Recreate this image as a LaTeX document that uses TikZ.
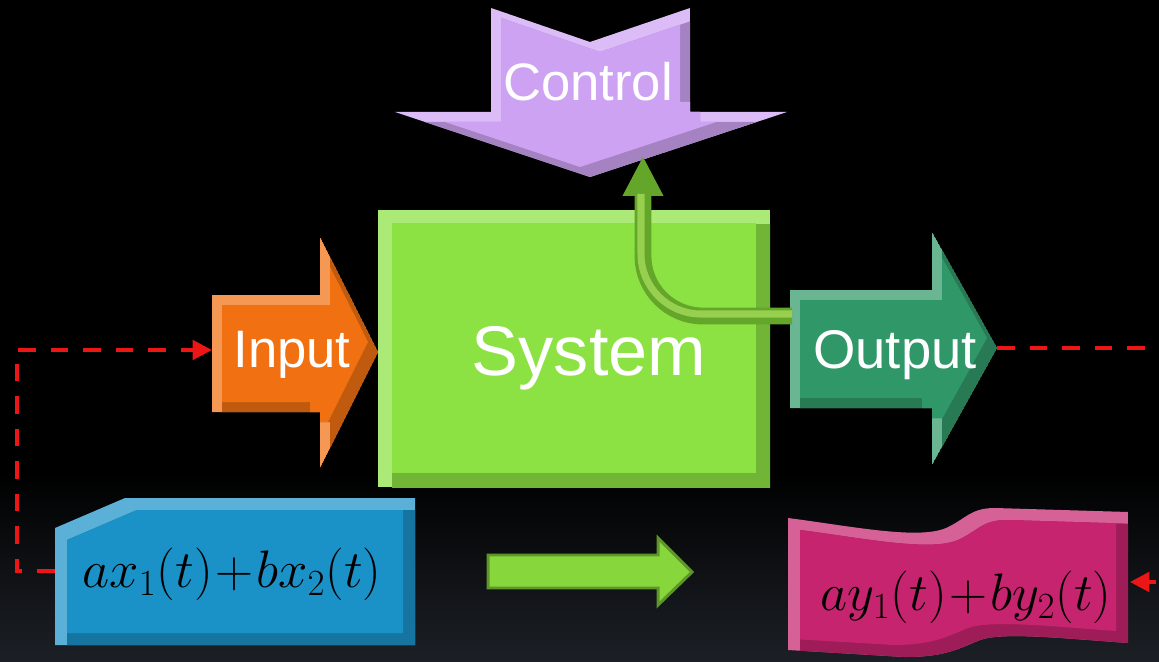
\RequirePackage{fix-cm}
\documentclass[tikz,border=0pt]{standalone}
\usepackage{fontspec}
\setsansfont{Liberation Sans}
\usetikzlibrary{arrows.meta,calc}

\definecolor{ctrlcol}{RGB}{206,162,242}
\definecolor{incol}{RGB}{240,112,18}
\definecolor{syscol}{RGB}{140,226,66}
\definecolor{outcol}{RGB}{48,152,104}
\definecolor{sumxcol}{RGB}{26,146,200}
\definecolor{sumycol}{RGB}{198,36,110}
\definecolor{mapcol}{RGB}{135,215,60}
\definecolor{tubecol}{RGB}{100,166,42}
\definecolor{fbred}{RGB}{236,22,22}

\tikzset{
  blocklabel/.style={text=white,anchor=base,inner sep=0pt,
                     font=\sffamily\fontsize{#1}{#1}\selectfont},
  blocklabel/.default=30,
  sumlabel/.style={text=black,inner sep=0pt,font=\fontsize{30}{34}\selectfont},
  feedback/.style={draw=fbred,line width=2.3pt,dash pattern=on 10pt off 8.5pt,
                   -{Triangle[width=11pt,length=11pt]}},
  tube/.style={draw=tubecol,line width=9.6pt,rounded corners=1.2cm},
}

\begin{document}
\begin{tikzpicture}[x=0.02cm,y=-0.02cm]
  % filled shape with a bevel: #1 path, #2 colour, #3 bevel size
  \def\bevel#1#2#3{%
    \begin{scope}
      \clip #1;
      \fill[#2!72!white] #1;
      \fill[#2!80!black,shift={(#3,#3)}] #1;
      \clip[shift={(#3,#3)}] #1;
      \fill[#2,shift={(-#3,-#3)}] #1;
    \end{scope}
  }
  \def\ctrlshape{(491,8) -- (590,42) -- (690,8) -- (690,112) -- (787,112)
    -- (590,177) -- (395,112) -- (491,112) -- cycle}
  \def\inshape{(212,295) -- (320,295) -- (320,237) -- (378,352) -- (320,468)
    -- (320,412) -- (212,412) -- cycle}
  \def\sysshape{(378,210) rectangle (770,487)}
  \def\outshape{(790,290) -- (932,290) -- (932,232) -- (997,348) -- (932,465)
    -- (932,408) -- (790,408) -- cycle}
  \def\sumxshape{(55,528) -- (125,498) -- (415,498) -- (415,645) -- (55,645) -- cycle}
  \def\sumyshape{(788,518) .. controls (850,526) and (918,540) .. (946,528)
    .. controls (966,519) and (970,508) .. (995,508) -- (1128,512) -- (1128,643)
    .. controls (1060,638) and (1002,632) .. (980,640)
    .. controls (960,648) and (946,657) .. (905,657) -- (788,650) -- cycle}
  \def\mapshape{(488,555) -- (658,555) -- (658,538) -- (692,572) -- (658,605)
    -- (658,588) -- (488,588) -- cycle}

  \fill[black] (0,0) rectangle (1159,662);
  \shade[top color=black,bottom color={rgb,255:red,28;green,32;blue,38}]
    (0,470) rectangle (1159,662);
  \clip (0,0) rectangle (1159,662);

  % blocks
  \bevel{\ctrlshape}{ctrlcol}{10}
  \bevel{\sysshape}{syscol}{14}
  \bevel{\inshape}{incol}{10}
  \bevel{\outshape}{outcol}{10}
  \bevel{\sumxshape}{sumxcol}{12}
  \bevel{\sumyshape}{sumycol}{12}
  \filldraw[fill=mapcol,draw=mapcol!70!black,line width=1.7pt] \mapshape;

  \node[blocklabel] (control) at (588,101) {Control};
  \node[blocklabel=40] (system) at (589,375) {System};
  \node[blocklabel] (input) at (292,367) {Input};
  \node[blocklabel=31] (output) at (895,368) {Output};
  \node[sumlabel] (sumx) at (232,574) {$\medmuskip=1mu ax_1(t)+bx_2(t)$};
  \node[sumlabel] (sumy) at (966,597) {$\medmuskip=1mu ay_1(t)+by_2(t)$};

  \coordinate (input-tail) at (212,350);
  \coordinate (output-tip) at (997,348);
  \coordinate (output-w) at (792,316);
  \coordinate (control-s) at (643,156);
  \coordinate (sumx-w) at (55,571);
  \coordinate (sumy-e) at (1130,582);

  % control feed from the output
  \draw[tube,-{Triangle[width=21.5pt,length=22.7pt]}] (output-w) -| (control-s);
  \draw[tube,draw={rgb,255:red,150;green,208;blue,78},line width=4pt]
    ($(output-w)+(0,-2)$) -| ($(control-s)+(-2,38)$);

  % feedback lines
  \draw[feedback] (sumx-w) -- ++(-38,0) |- (input-tail);
  \draw[feedback] (output-tip) -- ++(190,0) |- (sumy-e);
\end{tikzpicture}
\end{document}
